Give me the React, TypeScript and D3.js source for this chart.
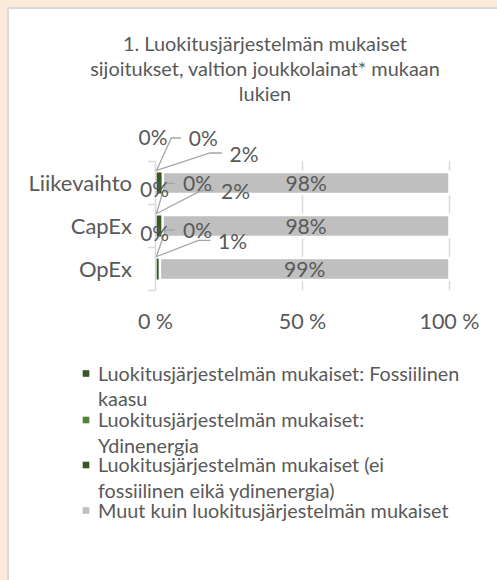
import React from "react";
import * as d3 from "d3";

const categories = ["Liikevaihto", "CapEx", "OpEx"];
const seriesKeys = ["fossil", "nuclear", "aligned", "other"];
const seriesNames = [
  "Luokitusjärjestelmän mukaiset: Fossiilinen kaasu",
  "Luokitusjärjestelmän mukaiset: Ydinenergia",
  "Luokitusjärjestelmän mukaiset (ei fossiilinen eikä ydinenergia)",
  "Muut kuin luokitusjärjestelmän mukaiset",
];
const fossilGas = [0.1, 0.1, 0.1];
const nuclear = [0.1, 0.1, 0.1];
const aligned = [2.3, 2.2, 1.3];
const other = [97.5, 97.6, 98.5];
const xTicks = [0, 50, 100];
const xTickLabels = ["0 %", "50 %", "100 %"];
const titleLines = [
  "1. Luokitusjärjestelmän mukaiset",
  "sijoitukset, valtion joukkolainat* mukaan",
  "lukien",
];
const legendLines = [
  ["Luokitusjärjestelmän mukaiset: Fossiilinen", "kaasu"],
  ["Luokitusjärjestelmän mukaiset:", "Ydinenergia"],
  ["Luokitusjärjestelmän mukaiset (ei", "fossiilinen eikä ydinenergia)"],
  ["Muut kuin luokitusjärjestelmän mukaiset"],
];

// layout / style
const W = 497, H = 580;
const colors = ["#375623", "#548235", "#375623", "#BFBFBF"];
const textColor = "#595959";
const font = "Lato, 'Open Sans', sans-serif";
// label offsets (dx from x(0), dy from band centre) per category, for the three small series
const labelOffsets = [
  [[-2.5, -46], [47.8, -45], [88.5, -29]],
  [[-1, -37], [42, -42.7], [80, -34.5]],
  [[-0.8, -35.7], [42, -39], [77, -27.7]],
];

export default function App() {
  const table = categories.map((c, i) => ({
    category: c,
    fossil: fossilGas[i],
    nuclear: nuclear[i],
    aligned: aligned[i],
    other: other[i],
  }));
  const stacked = d3.stack<any>().keys(seriesKeys)(table);

  const x = d3.scaleLinear().domain([0, 100]).range([155.5, 449.5]);
  const y = d3
    .scaleBand<string>()
    .domain(categories)
    .range([161.5, 290.5])
    .paddingInner(0.488)
    .paddingOuter(0.244);
  const bw = y.bandwidth();
  const fmt = (v: number) => Math.round(v) + "%";
  const axisTop = 161.5, axisBottom = 290.5;
  const boundaries = [axisTop, ...categories.slice(1).map((c) => (y(c) as number) - (y.step() - bw) / 2), axisBottom];

  return (
    <svg width={W} height={H} style={{ position: "absolute", left: 0, top: 0 }} fontFamily={font}>
      <rect x={0} y={0} width={W} height={H} fill="#FBE9D9" />
      <rect x={8} y={8} width={W + 20} height={H + 20} fill="#FFFFFF" stroke="#D9D9D9" strokeWidth={2} />

      {titleLines.map((t, i) => (
        <text key={i} x={265} y={43.5 + i * 25.3} dy="0.36em" textAnchor="middle" fontSize={19.9} fill={textColor}>
          {t}
        </text>
      ))}

      {/* gridlines */}
      {xTicks.slice(1).map((t) => (
        <line key={t} x1={x(t)} x2={x(t)} y1={axisTop} y2={axisBottom} stroke="#D9D9D9" strokeWidth={1.5} />
      ))}

      {/* bars */}
      {stacked.map((s, si) => (
        <g key={s.key}>
          {s.map((d, di) => (
            <rect
              key={di}
              x={x(d[0])}
              width={x(d[1]) - x(d[0])}
              y={y(categories[di])}
              height={bw}
              fill={colors[si]}
              stroke="#FFFFFF"
              strokeWidth={si === 3 ? 2.5 : 1}
            />
          ))}
        </g>
      ))}

      {/* axis */}
      <line x1={x(0)} x2={x(0)} y1={axisTop} y2={axisBottom} stroke="#D9D9D9" strokeWidth={1.5} />
      {boundaries.map((b, i) => (
        <line key={i} x1={x(0) - 7.5} x2={x(0)} y1={b} y2={b} stroke="#D9D9D9" strokeWidth={1.5} />
      ))}
      {categories.map((c) => (
        <text key={c} x={132} y={(y(c) as number) + bw / 2} dy="0.36em" textAnchor="end" fontSize={22} fill={textColor}>
          {c}
        </text>
      ))}
      {xTicks.map((t, i) => (
        <text key={t} x={x(t)} y={321} dy="0.36em" textAnchor="middle" fontSize={21.5} fill={textColor}>
          {xTickLabels[i]}
        </text>
      ))}

      {/* leader lines & labels */}
      {categories.map((c, ci) => {
        const cy = (y(c) as number) + bw / 2;
        const top = y(c) as number;
        const x0 = x(0);
        const nl = labelOffsets[ci][1];
        const tl = labelOffsets[ci][2];
        const nX = x0 + nl[0], nY = cy + nl[1];
        const tX = x0 + tl[0], tY = cy + tl[1];
        return (
          <g key={c} fill="none" stroke="#A6A6A6" strokeWidth={1.3}>
            <polyline points={`${x0 + 0.8},${top - 1} ${nX - 32},${nY} ${nX - 22.5},${nY}`} />
            <polyline points={`${x0 + 1.2},${top - 1.5} ${tX - 34},${tY - 1} ${tX - 22},${tY - 1}`} />
          </g>
        );
      })}
      {stacked.map((s, si) =>
        s.map((d, di) => {
          const cy = (y(categories[di]) as number) + bw / 2;
          let lx: number, ly: number;
          if (si < 3) {
            lx = x(0) + labelOffsets[di][si][0];
            ly = cy + labelOffsets[di][si][1];
          } else {
            lx = (x(d[0]) + x(d[1])) / 2;
            ly = cy;
          }
          return (
            <text key={`${si}-${di}`} x={lx} y={ly} dy="0.36em" textAnchor="middle" fontSize={21} fill={textColor}>
              {fmt(d[1] - d[0])}
            </text>
          );
        })
      )}

      {/* legend */}
      {legendLines.map((lines, i) => {
        const y0 = [373.5, 420, 465, 510.5][i];
        return (
          <g key={i}>
            <rect x={82.7} y={y0 - 3.3} width={6.6} height={6.6} fill={colors[i]} />
            {lines.map((l, li) => (
              <text key={li} x={98} y={y0 + li * 25.8} dy="0.36em" fontSize={19.8} fill={textColor}>
                {l}
              </text>
            ))}
            <title>{seriesNames[i]}</title>
          </g>
        );
      })}
    </svg>
  );
}
